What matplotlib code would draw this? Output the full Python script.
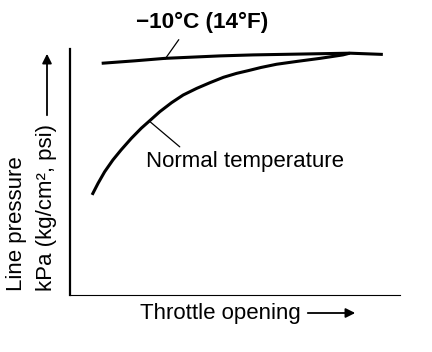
import matplotlib
matplotlib.use("Agg")
import matplotlib.pyplot as plt

plt.rcParams["font.family"] = ["Liberation Sans", "DejaVu Sans"]

# throttle opening (%) vs line pressure (% of max)
normal_x = [6.7, 8.5, 10.5, 13.0, 15.5, 18.6, 21.6, 24.2, 27.2, 30.8, 34.3,
            38.4, 42.4, 46.5, 50.5, 54.0, 57.9, 62.6, 69.0, 75.8, 82.7, 84.8]
normal_y = [40.7, 45.4, 50.1, 54.9, 59.0, 63.7, 67.8, 70.9, 74.5, 78.2, 81.3,
            84.0, 86.3, 88.5, 90.1, 91.2, 92.5, 93.8, 95.0, 96.2, 97.6, 98.3]

cold_x = [9.6, 19.7, 28.8, 45.5, 55.5, 84.8, 94.8]
cold_y = [94.2, 95.2, 96.2, 97.2, 97.6, 98.3, 97.8]

W, H = 432, 352
fig = plt.figure(figsize=(W / 100, H / 100), dpi=100)
ax = fig.add_axes([70 / W, 57 / H, 330 / W, 246 / H])

ax.plot(normal_x, normal_y, color="black", lw=2.2, solid_capstyle="butt",
        solid_joinstyle="round")
ax.plot(cold_x, cold_y, color="black", lw=2.2, solid_capstyle="butt",
        solid_joinstyle="round")

ax.set_xlim(0, 100)
ax.set_ylim(0, 100)
ax.set_xticks([])
ax.set_yticks([])
for side in ("top", "right"):
    ax.spines[side].set_visible(False)
ax.spines["left"].set_linewidth(1.6)
ax.spines["bottom"].set_linewidth(0.8)

# curve labels with leader lines
ax.annotate("\u221210\u00b0C (14\u00b0F)", xy=(28.8, 95.9), xytext=(39.9, 110.6),
            ha="center", va="center", fontsize=16.2, fontweight="bold",
            annotation_clip=False,
            arrowprops=dict(arrowstyle="-", lw=0.9, color="black",
                            relpos=(0.36, 0.0), shrinkA=3, shrinkB=0))
ax.annotate("Normal temperature", xy=(24.2, 70.5), xytext=(52.9, 54.1),
            ha="center", va="center", fontsize=16,
            arrowprops=dict(arrowstyle="-", lw=0.9, color="black",
                            relpos=(0.2, 1.0), shrinkA=2, shrinkB=0))

# axis labels with arrows
fig.text(140 / W, 1 - 313 / H, "Throttle opening", fontsize=16,
         ha="left", va="center")
fig.add_artist(matplotlib.patches.FancyArrowPatch(
    (305 / W, 1 - 313 / H), (358 / W, 1 - 313 / H),
    transform=fig.transFigure, arrowstyle="-|>", mutation_scale=14,
    lw=1.3, color="black"))

fig.text(17 / W, 1 - 291 / H, "Line pressure", fontsize=16, rotation=90,
         ha="center", va="bottom")
fig.text(47 / W, 1 - 291 / H, "kPa (kg/cm\u00b2, psi)", fontsize=16,
         rotation=90, ha="center", va="bottom")
fig.add_artist(matplotlib.patches.FancyArrowPatch(
    (47 / W, 1 - 118 / H), (47 / W, 1 - 51 / H),
    transform=fig.transFigure, arrowstyle="-|>", mutation_scale=14,
    lw=1.3, color="black"))

fig.savefig("out.png", dpi=100)
